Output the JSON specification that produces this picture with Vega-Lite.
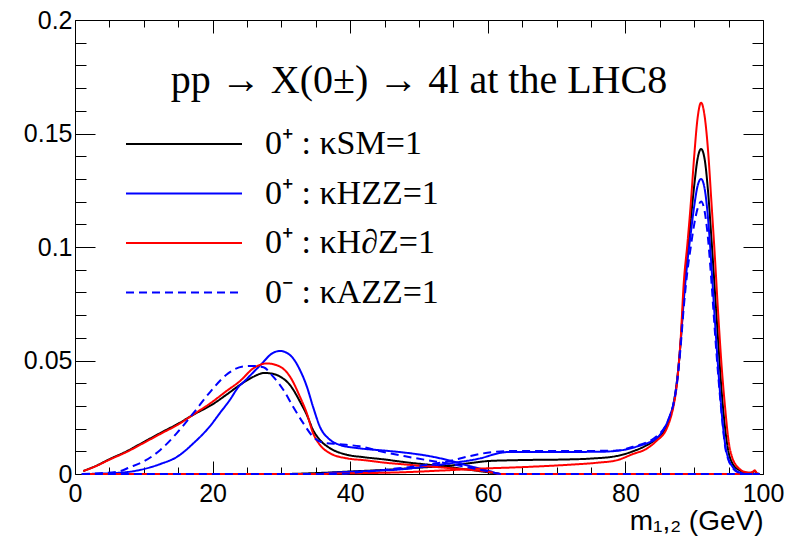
{
"$schema": "https://vega.github.io/schema/vega-lite/v6.json",
"width": 688, "height": 454,
"autosize": {"type": "none"},
"padding": {"left": 75, "top": 20, "right": 22, "bottom": 65},
"background": "white",
"config": {"view": {"stroke": null}, "axis": {"grid": false, "labelFlush": false, "domainColor": "#000", "tickColor": "#000", "tickWidth": 1, "domainWidth": 1, "labelFont": "Liberation Sans", "labelFontSize": 25, "labelColor": "#000", "titleFont": "Liberation Sans", "titleFontSize": 28, "titleFontWeight": "normal", "titleColor": "#000"}},
"title": {"text": "pp  →  X(0±)  →  4l   at the LHC8", "font": "Liberation Serif", "fontSize": 40, "fontWeight": "normal", "color": "#000", "anchor": "middle", "frame": "group", "orient": "top", "baseline": "alphabetic", "offset": 0, "dy": 125},
"datasets": {
"curves": [
{"model":"SM","part":"m1","m":1,"v":0},{"model":"SM","part":"m1","m":30,"v":0},{"model":"SM","part":"m1","m":35,"v":0.0004},{"model":"SM","part":"m1","m":40,"v":0.0011},{"model":"SM","part":"m1","m":45,"v":0.0018},{"model":"SM","part":"m1","m":50,"v":0.0028},{"model":"SM","part":"m1","m":54.5,"v":0.0037},{"model":"SM","part":"m1","m":58,"v":0.005},{"model":"SM","part":"m1","m":60,"v":0.0057},{"model":"SM","part":"m1","m":62.7,"v":0.006},{"model":"SM","part":"m1","m":66,"v":0.0062},{"model":"SM","part":"m1","m":71.4,"v":0.0064},{"model":"SM","part":"m1","m":75,"v":0.0068},{"model":"SM","part":"m1","m":78.7,"v":0.0079},{"model":"SM","part":"m1","m":81.1,"v":0.01},{"model":"SM","part":"m1","m":83,"v":0.0125},{"model":"SM","part":"m1","m":84.5,"v":0.0155},{"model":"SM","part":"m1","m":86,"v":0.021},{"model":"SM","part":"m1","m":86.5,"v":0.025},{"model":"SM","part":"m1","m":87,"v":0.031},{"model":"SM","part":"m1","m":87.5,"v":0.041},{"model":"SM","part":"m1","m":88,"v":0.057},{"model":"SM","part":"m1","m":88.5,"v":0.079},{"model":"SM","part":"m1","m":89,"v":0.097},{"model":"SM","part":"m1","m":89.5,"v":0.112},{"model":"SM","part":"m1","m":90,"v":0.127},{"model":"SM","part":"m1","m":90.5,"v":0.139},{"model":"SM","part":"m1","m":91,"v":0.1432},{"model":"SM","part":"m1","m":91.5,"v":0.139},{"model":"SM","part":"m1","m":92,"v":0.125},{"model":"SM","part":"m1","m":92.5,"v":0.104},{"model":"SM","part":"m1","m":93,"v":0.081},{"model":"SM","part":"m1","m":93.5,"v":0.058},{"model":"SM","part":"m1","m":94,"v":0.036},{"model":"SM","part":"m1","m":94.5,"v":0.02},{"model":"SM","part":"m1","m":95,"v":0.0095},{"model":"SM","part":"m1","m":95.5,"v":0.005},{"model":"SM","part":"m1","m":96,"v":0.0028},{"model":"SM","part":"m1","m":96.5,"v":0.0018},{"model":"SM","part":"m1","m":97,"v":0.001},{"model":"SM","part":"m1","m":97.5,"v":0.0006},{"model":"SM","part":"m1","m":98,"v":0.0005},{"model":"SM","part":"m1","m":98.5,"v":0.0008},{"model":"SM","part":"m1","m":98.8,"v":0.0013},{"model":"SM","part":"m1","m":99.1,"v":0.0003},{"model":"SM","part":"m1","m":99.5,"v":0},
{"model":"SM","part":"m2","m":1.2,"v":0.0013},{"model":"SM","part":"m2","m":3,"v":0.0035},{"model":"SM","part":"m2","m":5,"v":0.0065},{"model":"SM","part":"m2","m":7.5,"v":0.01},{"model":"SM","part":"m2","m":10,"v":0.0141},{"model":"SM","part":"m2","m":12.5,"v":0.0182},{"model":"SM","part":"m2","m":15,"v":0.0222},{"model":"SM","part":"m2","m":17.5,"v":0.0266},{"model":"SM","part":"m2","m":20,"v":0.0307},{"model":"SM","part":"m2","m":22,"v":0.0349},{"model":"SM","part":"m2","m":24,"v":0.0393},{"model":"SM","part":"m2","m":25.9,"v":0.0428},{"model":"SM","part":"m2","m":27.5,"v":0.0445},{"model":"SM","part":"m2","m":28.5,"v":0.0443},{"model":"SM","part":"m2","m":29.8,"v":0.0429},{"model":"SM","part":"m2","m":31.25,"v":0.0392},{"model":"SM","part":"m2","m":32.7,"v":0.0319},{"model":"SM","part":"m2","m":33.7,"v":0.026},{"model":"SM","part":"m2","m":34.6,"v":0.0194},{"model":"SM","part":"m2","m":35.6,"v":0.015},{"model":"SM","part":"m2","m":37.1,"v":0.0113},{"model":"SM","part":"m2","m":39.5,"v":0.0085},{"model":"SM","part":"m2","m":42,"v":0.0074},{"model":"SM","part":"m2","m":45,"v":0.0064},{"model":"SM","part":"m2","m":48,"v":0.0052},{"model":"SM","part":"m2","m":51,"v":0.0042},{"model":"SM","part":"m2","m":54,"v":0.0032},{"model":"SM","part":"m2","m":57,"v":0.002},{"model":"SM","part":"m2","m":60,"v":0.0008},{"model":"SM","part":"m2","m":62,"v":0},{"model":"SM","part":"m2","m":99.5,"v":0},
{"model":"HZZ","part":"m1","m":1,"v":0},{"model":"HZZ","part":"m1","m":35,"v":0},{"model":"HZZ","part":"m1","m":37.5,"v":0.0006},{"model":"HZZ","part":"m1","m":42,"v":0.0012},{"model":"HZZ","part":"m1","m":47.2,"v":0.002},{"model":"HZZ","part":"m1","m":51,"v":0.0033},{"model":"HZZ","part":"m1","m":54.5,"v":0.0047},{"model":"HZZ","part":"m1","m":58.9,"v":0.0069},{"model":"HZZ","part":"m1","m":61.8,"v":0.0093},{"model":"HZZ","part":"m1","m":63,"v":0.0097},{"model":"HZZ","part":"m1","m":70,"v":0.0097},{"model":"HZZ","part":"m1","m":76.3,"v":0.0098},{"model":"HZZ","part":"m1","m":79.7,"v":0.0106},{"model":"HZZ","part":"m1","m":82,"v":0.0124},{"model":"HZZ","part":"m1","m":83.1,"v":0.0135},{"model":"HZZ","part":"m1","m":84.8,"v":0.0165},{"model":"HZZ","part":"m1","m":86,"v":0.0222},{"model":"HZZ","part":"m1","m":86.5,"v":0.026},{"model":"HZZ","part":"m1","m":87,"v":0.031},{"model":"HZZ","part":"m1","m":87.5,"v":0.041},{"model":"HZZ","part":"m1","m":88,"v":0.057},{"model":"HZZ","part":"m1","m":88.5,"v":0.077},{"model":"HZZ","part":"m1","m":89,"v":0.093},{"model":"HZZ","part":"m1","m":89.5,"v":0.106},{"model":"HZZ","part":"m1","m":90,"v":0.118},{"model":"HZZ","part":"m1","m":90.5,"v":0.127},{"model":"HZZ","part":"m1","m":91,"v":0.13},{"model":"HZZ","part":"m1","m":91.5,"v":0.126},{"model":"HZZ","part":"m1","m":92,"v":0.113},{"model":"HZZ","part":"m1","m":92.5,"v":0.092},{"model":"HZZ","part":"m1","m":93,"v":0.068},{"model":"HZZ","part":"m1","m":93.5,"v":0.046},{"model":"HZZ","part":"m1","m":94,"v":0.027},{"model":"HZZ","part":"m1","m":94.5,"v":0.013},{"model":"HZZ","part":"m1","m":95,"v":0.0065},{"model":"HZZ","part":"m1","m":95.5,"v":0.0035},{"model":"HZZ","part":"m1","m":96,"v":0.0017},{"model":"HZZ","part":"m1","m":96.5,"v":0.0008},{"model":"HZZ","part":"m1","m":97,"v":0.0003},{"model":"HZZ","part":"m1","m":97.5,"v":0},{"model":"HZZ","part":"m1","m":99.5,"v":0},
{"model":"HZZ","part":"m2","m":1,"v":0},{"model":"HZZ","part":"m2","m":5,"v":0.0003},{"model":"HZZ","part":"m2","m":9,"v":0.0015},{"model":"HZZ","part":"m2","m":12.5,"v":0.0045},{"model":"HZZ","part":"m2","m":14.8,"v":0.0075},{"model":"HZZ","part":"m2","m":17.2,"v":0.0135},{"model":"HZZ","part":"m2","m":19.6,"v":0.021},{"model":"HZZ","part":"m2","m":21.1,"v":0.027},{"model":"HZZ","part":"m2","m":22.5,"v":0.0326},{"model":"HZZ","part":"m2","m":23.8,"v":0.0385},{"model":"HZZ","part":"m2","m":24.5,"v":0.0405},{"model":"HZZ","part":"m2","m":26.9,"v":0.0478},{"model":"HZZ","part":"m2","m":28.8,"v":0.0534},{"model":"HZZ","part":"m2","m":29.8,"v":0.0542},{"model":"HZZ","part":"m2","m":31.25,"v":0.0524},{"model":"HZZ","part":"m2","m":32.7,"v":0.0458},{"model":"HZZ","part":"m2","m":33.7,"v":0.0385},{"model":"HZZ","part":"m2","m":34.6,"v":0.0296},{"model":"HZZ","part":"m2","m":35.6,"v":0.0208},{"model":"HZZ","part":"m2","m":37.1,"v":0.015},{"model":"HZZ","part":"m2","m":38.5,"v":0.0128},{"model":"HZZ","part":"m2","m":41.4,"v":0.0113},{"model":"HZZ","part":"m2","m":45,"v":0.0103},{"model":"HZZ","part":"m2","m":48,"v":0.0094},{"model":"HZZ","part":"m2","m":52,"v":0.0076},{"model":"HZZ","part":"m2","m":55,"v":0.0055},{"model":"HZZ","part":"m2","m":57,"v":0.0038},{"model":"HZZ","part":"m2","m":60,"v":0.0015},{"model":"HZZ","part":"m2","m":62,"v":0},{"model":"HZZ","part":"m2","m":99.5,"v":0},
{"model":"HdZ","part":"m1","m":1,"v":0},{"model":"HdZ","part":"m1","m":35,"v":0},{"model":"HdZ","part":"m1","m":40,"v":0.0003},{"model":"HdZ","part":"m1","m":47,"v":0.0007},{"model":"HdZ","part":"m1","m":54.5,"v":0.0017},{"model":"HdZ","part":"m1","m":60,"v":0.0025},{"model":"HdZ","part":"m1","m":63,"v":0.0028},{"model":"HdZ","part":"m1","m":67,"v":0.0033},{"model":"HdZ","part":"m1","m":71.4,"v":0.004},{"model":"HdZ","part":"m1","m":76,"v":0.005},{"model":"HdZ","part":"m1","m":78.7,"v":0.006},{"model":"HdZ","part":"m1","m":81.1,"v":0.0088},{"model":"HdZ","part":"m1","m":83,"v":0.011},{"model":"HdZ","part":"m1","m":84.5,"v":0.0145},{"model":"HdZ","part":"m1","m":86,"v":0.02},{"model":"HdZ","part":"m1","m":86.5,"v":0.024},{"model":"HdZ","part":"m1","m":87,"v":0.03},{"model":"HdZ","part":"m1","m":87.5,"v":0.04},{"model":"HdZ","part":"m1","m":88,"v":0.058},{"model":"HdZ","part":"m1","m":88.5,"v":0.085},{"model":"HdZ","part":"m1","m":89,"v":0.101},{"model":"HdZ","part":"m1","m":89.5,"v":0.119},{"model":"HdZ","part":"m1","m":90,"v":0.14},{"model":"HdZ","part":"m1","m":90.5,"v":0.157},{"model":"HdZ","part":"m1","m":91,"v":0.1636},{"model":"HdZ","part":"m1","m":91.5,"v":0.158},{"model":"HdZ","part":"m1","m":92,"v":0.143},{"model":"HdZ","part":"m1","m":92.5,"v":0.12},{"model":"HdZ","part":"m1","m":93,"v":0.096},{"model":"HdZ","part":"m1","m":93.5,"v":0.07},{"model":"HdZ","part":"m1","m":94,"v":0.047},{"model":"HdZ","part":"m1","m":94.5,"v":0.029},{"model":"HdZ","part":"m1","m":95,"v":0.0145},{"model":"HdZ","part":"m1","m":95.5,"v":0.0075},{"model":"HdZ","part":"m1","m":96,"v":0.0042},{"model":"HdZ","part":"m1","m":96.5,"v":0.0025},{"model":"HdZ","part":"m1","m":97,"v":0.0013},{"model":"HdZ","part":"m1","m":97.5,"v":0.0008},{"model":"HdZ","part":"m1","m":98,"v":0.0005},{"model":"HdZ","part":"m1","m":98.5,"v":0.0009},{"model":"HdZ","part":"m1","m":98.8,"v":0.0016},{"model":"HdZ","part":"m1","m":99.1,"v":0.0004},{"model":"HdZ","part":"m1","m":99.5,"v":0},
{"model":"HdZ","part":"m2","m":1.2,"v":0.0013},{"model":"HdZ","part":"m2","m":3,"v":0.0034},{"model":"HdZ","part":"m2","m":5,"v":0.0063},{"model":"HdZ","part":"m2","m":7.5,"v":0.0097},{"model":"HdZ","part":"m2","m":10,"v":0.0137},{"model":"HdZ","part":"m2","m":12.5,"v":0.0178},{"model":"HdZ","part":"m2","m":15,"v":0.0218},{"model":"HdZ","part":"m2","m":17.5,"v":0.0268},{"model":"HdZ","part":"m2","m":19.6,"v":0.031},{"model":"HdZ","part":"m2","m":22,"v":0.0365},{"model":"HdZ","part":"m2","m":24,"v":0.041},{"model":"HdZ","part":"m2","m":25.9,"v":0.0465},{"model":"HdZ","part":"m2","m":27.9,"v":0.0487},{"model":"HdZ","part":"m2","m":29.8,"v":0.0473},{"model":"HdZ","part":"m2","m":31.25,"v":0.0429},{"model":"HdZ","part":"m2","m":32.7,"v":0.034},{"model":"HdZ","part":"m2","m":33.7,"v":0.0267},{"model":"HdZ","part":"m2","m":34.6,"v":0.018},{"model":"HdZ","part":"m2","m":35.6,"v":0.0128},{"model":"HdZ","part":"m2","m":37.1,"v":0.0091},{"model":"HdZ","part":"m2","m":39.5,"v":0.0069},{"model":"HdZ","part":"m2","m":42,"v":0.0061},{"model":"HdZ","part":"m2","m":45,"v":0.005},{"model":"HdZ","part":"m2","m":48,"v":0.0042},{"model":"HdZ","part":"m2","m":52,"v":0.0032},{"model":"HdZ","part":"m2","m":56,"v":0.0022},{"model":"HdZ","part":"m2","m":60,"v":0.001},{"model":"HdZ","part":"m2","m":62,"v":0},{"model":"HdZ","part":"m2","m":99.5,"v":0},
{"model":"AZZ","part":"m1","m":1,"v":0},{"model":"AZZ","part":"m1","m":38,"v":0},{"model":"AZZ","part":"m1","m":42,"v":0.001},{"model":"AZZ","part":"m1","m":47,"v":0.0025},{"model":"AZZ","part":"m1","m":51,"v":0.004},{"model":"AZZ","part":"m1","m":54,"v":0.0054},{"model":"AZZ","part":"m1","m":57.4,"v":0.0079},{"model":"AZZ","part":"m1","m":61,"v":0.0098},{"model":"AZZ","part":"m1","m":63,"v":0.0101},{"model":"AZZ","part":"m1","m":70,"v":0.0101},{"model":"AZZ","part":"m1","m":78.7,"v":0.0103},{"model":"AZZ","part":"m1","m":81.1,"v":0.012},{"model":"AZZ","part":"m1","m":83,"v":0.0138},{"model":"AZZ","part":"m1","m":84.5,"v":0.0165},{"model":"AZZ","part":"m1","m":86,"v":0.0222},{"model":"AZZ","part":"m1","m":86.5,"v":0.026},{"model":"AZZ","part":"m1","m":87,"v":0.031},{"model":"AZZ","part":"m1","m":87.5,"v":0.04},{"model":"AZZ","part":"m1","m":88,"v":0.055},{"model":"AZZ","part":"m1","m":88.5,"v":0.074},{"model":"AZZ","part":"m1","m":89,"v":0.089},{"model":"AZZ","part":"m1","m":89.5,"v":0.1},{"model":"AZZ","part":"m1","m":90,"v":0.11},{"model":"AZZ","part":"m1","m":90.5,"v":0.117},{"model":"AZZ","part":"m1","m":91,"v":0.12},{"model":"AZZ","part":"m1","m":91.5,"v":0.116},{"model":"AZZ","part":"m1","m":92,"v":0.104},{"model":"AZZ","part":"m1","m":92.5,"v":0.085},{"model":"AZZ","part":"m1","m":93,"v":0.063},{"model":"AZZ","part":"m1","m":93.5,"v":0.043},{"model":"AZZ","part":"m1","m":94,"v":0.026},{"model":"AZZ","part":"m1","m":94.5,"v":0.012},{"model":"AZZ","part":"m1","m":95,"v":0.006},{"model":"AZZ","part":"m1","m":95.5,"v":0.003},{"model":"AZZ","part":"m1","m":96,"v":0.0013},{"model":"AZZ","part":"m1","m":96.5,"v":0.0006},{"model":"AZZ","part":"m1","m":97,"v":0.0002},{"model":"AZZ","part":"m1","m":97.5,"v":0},{"model":"AZZ","part":"m1","m":99.5,"v":0},
{"model":"AZZ","part":"m2","m":1,"v":0},{"model":"AZZ","part":"m2","m":6.2,"v":0.001},{"model":"AZZ","part":"m2","m":8,"v":0.003},{"model":"AZZ","part":"m2","m":9.9,"v":0.0054},{"model":"AZZ","part":"m2","m":12.4,"v":0.0106},{"model":"AZZ","part":"m2","m":14.8,"v":0.018},{"model":"AZZ","part":"m2","m":17.2,"v":0.0268},{"model":"AZZ","part":"m2","m":19.6,"v":0.036},{"model":"AZZ","part":"m2","m":22,"v":0.0437},{"model":"AZZ","part":"m2","m":24.5,"v":0.0474},{"model":"AZZ","part":"m2","m":25.9,"v":0.0476},{"model":"AZZ","part":"m2","m":27.4,"v":0.047},{"model":"AZZ","part":"m2","m":28.8,"v":0.0429},{"model":"AZZ","part":"m2","m":30.3,"v":0.037},{"model":"AZZ","part":"m2","m":31.7,"v":0.0296},{"model":"AZZ","part":"m2","m":33.2,"v":0.0223},{"model":"AZZ","part":"m2","m":34.6,"v":0.0164},{"model":"AZZ","part":"m2","m":36.1,"v":0.0138},{"model":"AZZ","part":"m2","m":38.5,"v":0.0131},{"model":"AZZ","part":"m2","m":41.4,"v":0.0122},{"model":"AZZ","part":"m2","m":44.7,"v":0.0098},{"model":"AZZ","part":"m2","m":48,"v":0.0078},{"model":"AZZ","part":"m2","m":51,"v":0.0062},{"model":"AZZ","part":"m2","m":54,"v":0.0047},{"model":"AZZ","part":"m2","m":57,"v":0.003},{"model":"AZZ","part":"m2","m":60,"v":0.0012},{"model":"AZZ","part":"m2","m":62,"v":0},{"model":"AZZ","part":"m2","m":99.5,"v":0}
],
"anchor": [{"m": 0, "v": 0}]
},
"layer": [
{
"data": {"name": "curves"},
"mark": {"type": "line", "interpolate": "monotone", "strokeWidth": 2},
"encoding": {
"x": {"field": "m", "type": "quantitative", "scale": {"domain": [0, 100], "nice": false, "zero": false}, "axis": {"orient": "bottom", "values": [0, 20, 40, 60, 80, 100], "tickSize": -13, "labelPadding": 20, "format": "d", "title": "m₁,₂ (GeV)", "titleAnchor": "end", "titleBaseline": "alphabetic", "titleY": 55}},
"y": {"field": "v", "type": "quantitative", "scale": {"domain": [0, 0.2], "nice": false}, "axis": {"orient": "left", "values": [0, 0.05, 0.1, 0.15, 0.2], "tickSize": -20, "labelPadding": 23, "format": "~g", "title": null}},
"color": {"field": "model", "type": "nominal", "scale": {"domain": ["SM", "HZZ", "HdZ", "AZZ"], "range": ["#000000", "#0000ff", "#ff0000", "#0000ff"]},
  "legend": {"orient": "none", "legendX": 50, "legendY": 107, "title": null, "symbolType": "stroke", "symbolSize": 13456, "symbolStrokeWidth": 2, "clipHeight": 34, "rowPadding": 15.5, "labelOffset": 22, "labelFont": "Liberation Serif", "labelFontSize": 34, "labelColor": "#000", "labelLimit": 0, "padding": 0,
  "labelExpr": "datum.label == 'SM' ? '0⁺ : κSM=1' : datum.label == 'HZZ' ? '0⁺ : κHZZ=1' : datum.label == 'HdZ' ? '0⁺ : κH∂Z=1' : '0⁻ : κAZZ=1'"}},
"strokeDash": {"field": "model", "type": "nominal", "scale": {"domain": ["SM", "HZZ", "HdZ", "AZZ"], "range": [[1, 0], [1, 0], [1, 0], [8, 5]]},
  "legend": {"orient": "none", "legendX": 50, "legendY": 107, "title": null, "symbolType": "stroke", "symbolSize": 13456, "symbolStrokeWidth": 2, "clipHeight": 34, "rowPadding": 15.5, "labelOffset": 22, "labelFont": "Liberation Serif", "labelFontSize": 34, "labelColor": "#000", "labelLimit": 0, "padding": 0,
  "labelExpr": "datum.label == 'SM' ? '0⁺ : κSM=1' : datum.label == 'HZZ' ? '0⁺ : κHZZ=1' : datum.label == 'HdZ' ? '0⁺ : κH∂Z=1' : '0⁻ : κAZZ=1'"}},
"detail": {"field": "part", "type": "nominal"}
}
},
{
"data": {"name": "anchor"},
"mark": {"type": "point", "opacity": 0},
"encoding": {
"x": {"field": "m", "type": "quantitative", "scale": {"domain": [0, 100], "nice": false, "zero": false}, "axis": {"orient": "bottom", "values": [5, 10, 15, 25, 30, 35, 45, 50, 55, 65, 70, 75, 85, 90, 95], "tickSize": -7, "labels": false, "domain": false, "title": null}},
"y": {"field": "v", "type": "quantitative", "scale": {"domain": [0, 0.2], "nice": false}, "axis": {"orient": "left", "values": [0.01, 0.02, 0.03, 0.04, 0.06, 0.07, 0.08, 0.09, 0.11, 0.12, 0.13, 0.14, 0.16, 0.17, 0.18, 0.19], "tickSize": -11, "labels": false, "domain": false, "title": null}}
}
},
{
"data": {"name": "anchor"},
"mark": {"type": "point", "opacity": 0},
"encoding": {
"x": {"field": "m", "type": "quantitative", "scale": {"domain": [0, 100], "nice": false, "zero": false}, "axis": {"orient": "top", "values": [0, 20, 40, 60, 80, 100], "tickSize": -13, "labels": false, "domain": true, "title": null}},
"y": {"field": "v", "type": "quantitative", "scale": {"domain": [0, 0.2], "nice": false}, "axis": {"orient": "right", "values": [0, 0.05, 0.1, 0.15, 0.2], "tickSize": -20, "labels": false, "domain": true, "title": null}}
}
},
{
"data": {"name": "anchor"},
"mark": {"type": "point", "opacity": 0},
"encoding": {
"x": {"field": "m", "type": "quantitative", "scale": {"domain": [0, 100], "nice": false, "zero": false}, "axis": {"orient": "top", "values": [5, 10, 15, 25, 30, 35, 45, 50, 55, 65, 70, 75, 85, 90, 95], "tickSize": -7, "labels": false, "domain": false, "title": null}},
"y": {"field": "v", "type": "quantitative", "scale": {"domain": [0, 0.2], "nice": false}, "axis": {"orient": "right", "values": [0.01, 0.02, 0.03, 0.04, 0.06, 0.07, 0.08, 0.09, 0.11, 0.12, 0.13, 0.14, 0.16, 0.17, 0.18, 0.19], "tickSize": -11, "labels": false, "domain": false, "title": null}}
}
}
],
"resolve": {"axis": {"x": "independent", "y": "independent"}}
}
